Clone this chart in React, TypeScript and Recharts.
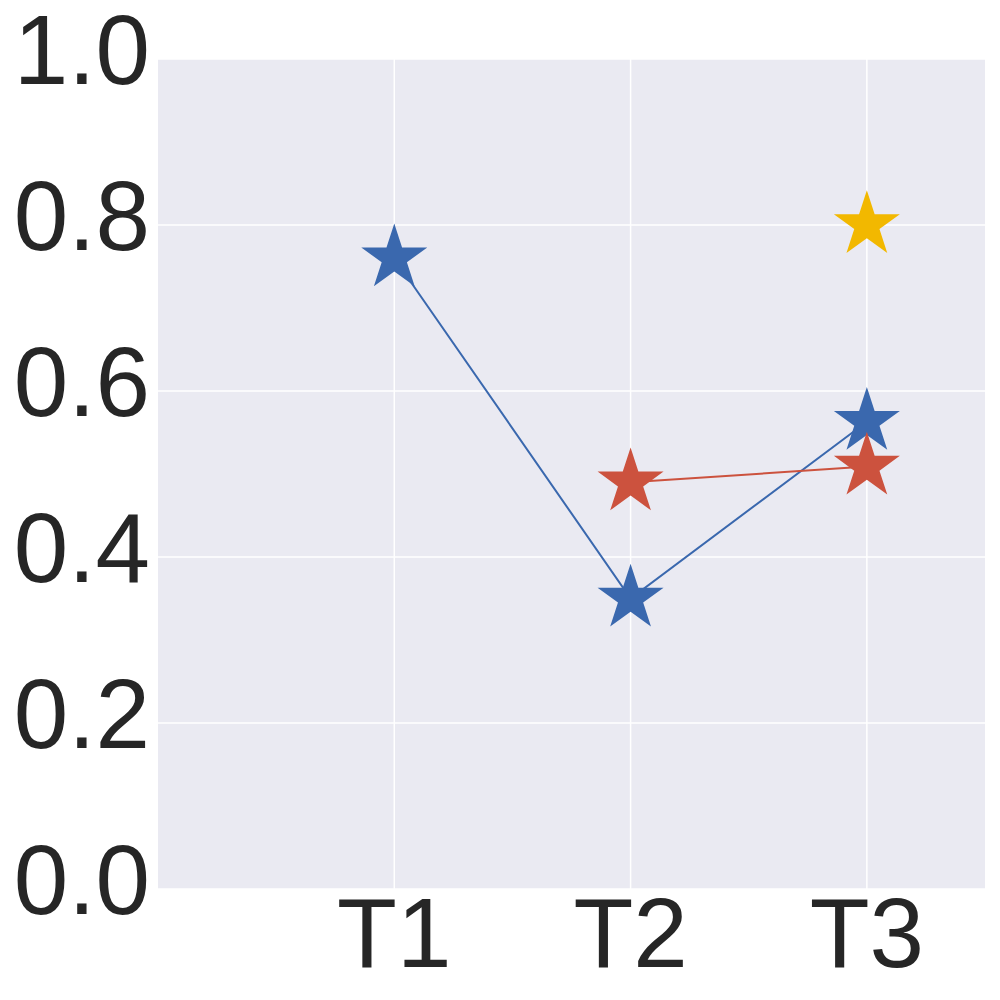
import React from "react";
import { LineChart, Line, XAxis, YAxis, CartesianGrid } from "recharts";

const categories = ["T1", "T2", "T3"];
const positions = [1, 2, 3];
const blueValues: (number | null)[] = [0.76, 0.35, 0.563];
const redValues: (number | null)[] = [null, 0.49, 0.509];
const yellowValues: (number | null)[] = [null, null, 0.8];
const yTicks = [0, 0.2, 0.4, 0.6, 0.8, 1.0];

const data = positions.map((p, i) => ({
  x: p,
  blue: blueValues[i],
  red: redValues[i],
  yellow: yellowValues[i],
}));

const FONT = "'Liberation Sans', Arial, sans-serif";
const TEXT = "#262626";
const BLUE = "#3a68ae";
const RED = "#cc523e";
const YELLOW = "#f2b800";

function starPoints(cx: number, cy: number, R: number) {
  const r = R * 0.381966;
  const pts: string[] = [];
  for (let k = 0; k < 10; k++) {
    const rad = k % 2 === 0 ? R : r;
    const ang = (-90 + k * 36) * (Math.PI / 180);
    pts.push(`${cx + rad * Math.cos(ang)},${cy + rad * Math.sin(ang)}`);
  }
  return pts.join(" ");
}

const makeStar = (color: string) => (props: any) => {
  const { cx, cy, value, index } = props;
  if (cx == null || cy == null || value == null || Number.isNaN(cy)) return <g key={`s-${index}`} />;
  return <polygon key={`s-${index}`} points={starPoints(cx, cy, 34.7)} fill={color} stroke="none" />;
};

const YTick = (props: any) => {
  const { x, y, payload } = props;
  return (
    <text x={x} y={y - 10} dy="0.355em" textAnchor="end" fill={TEXT} fontSize={98} fontFamily={FONT}>
      {Number(payload.value).toFixed(1)}
    </text>
  );
};

export default function App() {
  return (
    <div style={{ position: "absolute", left: 0, top: 0, width: 1000, height: 1000, background: "#fff" }}>
      <LineChart width={1000} height={1000} data={data} margin={{ top: 59, right: 15, bottom: 0, left: 0 }}>
        <CartesianGrid fill="#eaeaf2" stroke="#ffffff" strokeWidth={1.5} horizontalValues={yTicks} verticalValues={positions} />
        <XAxis
          type="number"
          dataKey="x"
          domain={[0, 3.5]}
          ticks={positions}
          tickFormatter={(v: number) => categories[positions.indexOf(v)] ?? ""}
          axisLine={false}
          tickLine={false}
          height={111}
          tick={{ fill: TEXT, fontSize: 98, fontFamily: FONT }}
          interval={0}
        />
        <YAxis
          type="number"
          domain={[0, 1]}
          ticks={yTicks}
          axisLine={false}
          tickLine={false}
          width={158}
          tick={<YTick />}
          interval={0}
        />
        <Line dataKey="blue" stroke={BLUE} strokeWidth={2} dot={makeStar(BLUE)} activeDot={false} isAnimationActive={false} />
        <Line dataKey="red" stroke={RED} strokeWidth={2} dot={makeStar(RED)} activeDot={false} isAnimationActive={false} />
        <Line dataKey="yellow" stroke={YELLOW} strokeWidth={2} dot={makeStar(YELLOW)} activeDot={false} isAnimationActive={false} />
      </LineChart>
    </div>
  );
}
